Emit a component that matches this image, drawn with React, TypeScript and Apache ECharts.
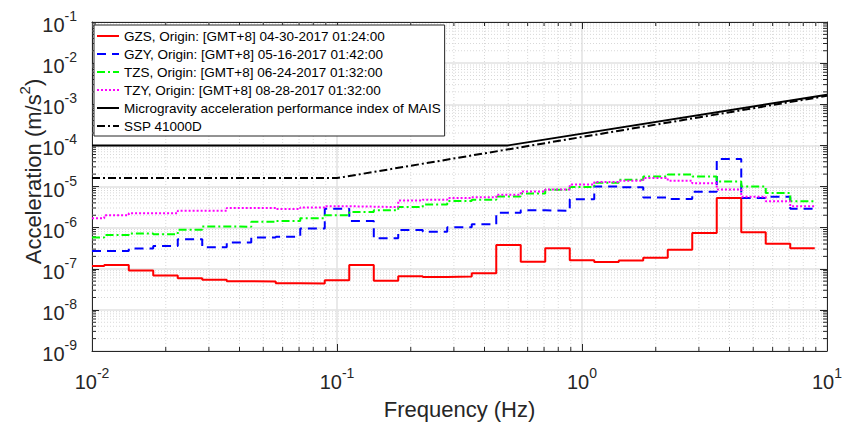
import React, { useEffect, useRef } from 'react';
import * as echarts from 'echarts';

const FONT = '"Liberation Sans", Arial, Helvetica, sans-serif';
const INK = '#262626';

// One-third-octave band edges (Hz); the first edge is the axis start
const bandEdges = [
  0.01, 0.01122, 0.01413, 0.01778, 0.02239, 0.02818, 0.03548, 0.04467, 0.05623, 0.07079,
  0.08913, 0.1122, 0.1413, 0.1778, 0.2239, 0.2818, 0.3548, 0.4467, 0.5623, 0.7079,
  0.8913, 1.122, 1.413, 1.778, 2.239, 2.818, 3.548, 4.467, 5.623, 7.079, 8.913,
];

// Band RMS acceleration (m/s^2), one value per band
const gzs = [
  1.17e-7, 1.23e-7, 9.1e-8, 6.9e-8, 5.9e-8, 5.4e-8, 5.0e-8, 4.9e-8, 4.47e-8, 4.37e-8,
  5.25e-8, 1.23e-7, 5.13e-8, 6.6e-8, 6.3e-8, 6.45e-8, 7.76e-8, 3.8e-7, 1.48e-7, 3.16e-7,
  1.62e-7, 1.45e-7, 1.58e-7, 1.86e-7, 2.88e-7, 7.41e-7, 5.25e-6, 7.76e-7, 4.07e-7, 3.16e-7,
];
const gzy = [
  2.69e-7, 2.69e-7, 3.09e-7, 3.55e-7, 5.25e-7, 3.31e-7, 4.37e-7, 5.75e-7, 6.03e-7, 9.55e-7,
  2.88e-6, 1.45e-6, 5.5e-7, 8.7e-7, 7.94e-7, 1.02e-6, 1.2e-6, 2.29e-6, 2.63e-6, 2.57e-6,
  4.9e-6, 1.0e-5, 9.55e-6, 5.37e-6, 5.0e-6, 7.41e-6, 4.68e-5, 5.25e-6, 5.62e-6, 2.88e-6,
];
const tzs = [
  5.75e-7, 6.6e-7, 7.24e-7, 6.92e-7, 8.9e-7, 1.07e-6, 1.05e-6, 1.38e-6, 1.45e-6, 1.7e-6,
  2.0e-6, 2.4e-6, 2.63e-6, 3.16e-6, 3.63e-6, 4.47e-6, 4.79e-6, 5.75e-6, 6.76e-6, 8.3e-6,
  9.77e-6, 1.23e-5, 1.45e-5, 1.74e-5, 1.95e-5, 1.74e-5, 1.32e-5, 1.0e-5, 6.92e-6, 4.37e-6,
];
const tzy = [
  1.7e-6, 2.0e-6, 2.24e-6, 2.24e-6, 2.57e-6, 2.57e-6, 3.02e-6, 3.02e-6, 2.82e-6, 3.09e-6,
  3.31e-6, 3.24e-6, 3.16e-6, 4.57e-6, 4.79e-6, 5.25e-6, 5.5e-6, 6.31e-6, 7.59e-6, 8.51e-6,
  1.12e-5, 1.29e-5, 1.38e-5, 1.62e-5, 1.38e-5, 1.2e-5, 8.51e-6, 5.62e-6, 4.37e-6, 3.31e-6,
];

// Requirement curves: [frequency, acceleration]
const maisIndex = [[0.01, 1e-4], [0.5, 1e-4], [10, 1.7e-3]];
const ssp41000D = [[0.01, 1.6e-5], [0.1, 1.6e-5], [10, 1.6e-3]];

const seriesNames = [
  'GZS, Origin: [GMT+8] 04-30-2017 01:24:00',
  'GZY, Origin: [GMT+8] 05-16-2017 01:42:00',
  'TZS, Origin: [GMT+8] 06-24-2017 01:32:00',
  'TZY, Origin: [GMT+8] 08-28-2017 01:32:00',
  'Microgravity acceleration performance index of MAIS',
  'SSP 41000D',
];

const xMin = 0.01, xMax = 10, yMin = 1e-9, yMax = 1e-1;

const stepData = (vals: number[]) =>
  bandEdges.map((f, i) => [f, vals[Math.min(i, vals.length - 1)]]);

const powLabel = (v: number) => `{b|10}{e|${Math.round(Math.log10(v))}}`;
const labelRich = {
  b: { fontSize: 20, lineHeight: 26, verticalAlign: 'bottom', color: INK, fontFamily: FONT },
  e: { fontSize: 14, lineHeight: 14, verticalAlign: 'top', color: INK, fontFamily: FONT },
};

const axisCommon = {
  type: 'log',
  logBase: 10,
  axisLine: { show: true, onZero: false, lineStyle: { color: INK, width: 1 } },
  axisTick: { show: true, inside: true, length: 7, lineStyle: { color: INK, width: 1 } },
};

const stepSeries = (name: string, vals: number[], color: string, type: any, width = 2) => ({
  name,
  type: 'line',
  step: 'end',
  data: stepData(vals),
  showSymbol: false,
  symbol: 'none',
  lineStyle: { color, width, type },
  itemStyle: { color },
  z: 3,
});

export default function App() {
  const ref = useRef<HTMLDivElement>(null);
  useEffect(() => {
    document.body.style.margin = '0';
    const chart = echarts.init(ref.current!, null, { renderer: 'svg' });
    const option: any = {
      animation: false,
      backgroundColor: '#ffffff',
      textStyle: { fontFamily: FONT },
      grid: { left: 92, right: 29, top: 22, bottom: 71, containLabel: false },
      legend: {
        data: seriesNames,
        orient: 'vertical',
        left: 94,
        top: 25,
        padding: [4, 4, 3, 2],
        itemWidth: 22,
        itemHeight: 14,
        itemGap: 4,
        backgroundColor: '#ffffff',
        borderColor: INK,
        borderWidth: 1,
        borderRadius: 0,
        itemStyle: { opacity: 0 },
        textStyle: { fontSize: 13.5, color: '#000', fontFamily: FONT },
        selectedMode: false,
      },
      xAxis: [
        {
          ...axisCommon,
          min: xMin,
          max: xMax,
          position: 'bottom',
          axisLabel: { margin: 15, formatter: powLabel, rich: labelRich },
          splitLine: { show: true, lineStyle: { color: '#e2e2e2', width: 1.5 } },
          name: 'Frequency (Hz)',
          nameLocation: 'middle',
          nameGap: 47,
          nameTextStyle: { fontSize: 22, color: INK, fontFamily: FONT },
        },
        {
          ...axisCommon,
          min: xMin,
          max: xMax,
          position: 'top',
          axisLabel: { show: false },
          splitLine: { show: false },
        },
      ],
      yAxis: [
        {
          ...axisCommon,
          min: yMin,
          max: yMax,
          splitNumber: 8,
          position: 'left',
          axisLabel: { margin: 15, formatter: powLabel, rich: labelRich },
          splitLine: { show: true, lineStyle: { color: '#e2e2e2', width: 1.5 } },
        },
        {
          ...axisCommon,
          min: yMin,
          max: yMax,
          splitNumber: 8,
          position: 'right',
          axisLabel: { show: false },
          splitLine: { show: false },
        },
      ],
      series: [
        stepSeries(seriesNames[0], gzs, '#ff0000', 'solid'),
        stepSeries(seriesNames[1], gzy, '#0000ff', [9, 6]),
        stepSeries(seriesNames[2], tzs, '#00ff00', [8, 3, 2, 3]),
        stepSeries(seriesNames[3], tzy, '#ff00ff', [2, 2]),
        {
          name: seriesNames[4],
          type: 'line',
          data: maisIndex,
          showSymbol: false,
          symbol: 'none',
          lineStyle: { color: '#000', width: 2, type: 'solid' },
          itemStyle: { color: '#000' },
          z: 3,
        },
        {
          name: seriesNames[5],
          type: 'line',
          data: ssp41000D,
          showSymbol: false,
          symbol: 'none',
          lineStyle: { color: '#000', width: 2, type: [8, 3, 2, 3] },
          itemStyle: { color: '#000' },
          z: 3,
        },
      ],
    };
    chart.setOption(option);

    // minor grid lines and minor ticks (2..9 x 10^n), placed through the axes' own scales
    const px = (v: number) => chart.convertToPixel({ xAxisIndex: 0 }, v) as number;
    const py = (v: number) => chart.convertToPixel({ yAxisIndex: 0 }, v) as number;
    const L = px(xMin), R = px(xMax), T = py(yMax), B = py(yMin);
    const minorX: number[] = [];
    for (let n = -2; n < 1; n++) for (let k = 2; k < 10; k++) minorX.push(k * Math.pow(10, n));
    const minorY: number[] = [];
    for (let n = -9; n < -1; n++) for (let k = 2; k < 10; k++) minorY.push(k * Math.pow(10, n));
    const gridStyle = { stroke: '#d8d8d8', lineWidth: 1, lineDash: [1, 2] };
    const tickStyle = { stroke: INK, lineWidth: 1 };
    const TL = 4;
    const g: any[] = [];
    minorX.forEach((v) => {
      const x = px(v);
      g.push({ type: 'line', silent: true, z: 1, shape: { x1: x, y1: T, x2: x, y2: B }, style: gridStyle });
      g.push({ type: 'line', silent: true, z: 2, shape: { x1: x, y1: B, x2: x, y2: B - TL }, style: tickStyle });
      g.push({ type: 'line', silent: true, z: 2, shape: { x1: x, y1: T, x2: x, y2: T + TL }, style: tickStyle });
    });
    minorY.forEach((v) => {
      const y = py(v);
      g.push({ type: 'line', silent: true, z: 1, shape: { x1: L, y1: y, x2: R, y2: y }, style: gridStyle });
      g.push({ type: 'line', silent: true, z: 2, shape: { x1: L, y1: y, x2: L + TL, y2: y }, style: tickStyle });
      g.push({ type: 'line', silent: true, z: 2, shape: { x1: R, y1: y, x2: R - TL, y2: y }, style: tickStyle });
    });
    g.push({
      type: 'text',
      x: 30.5,
      y: 171.5,
      rotation: Math.PI / 2,
      silent: true,
      style: {
        text: '{t|Acceleration (m/s}{s|2}{t|)}',
        align: 'center',
        verticalAlign: 'middle',
        fill: INK,
        rich: {
          t: { fontSize: 22, lineHeight: 28, verticalAlign: 'bottom', fontFamily: FONT, fill: INK },
          s: { fontSize: 15, lineHeight: 15, verticalAlign: 'top', fontFamily: FONT, fill: INK },
        },
      },
    });
    chart.setOption({ graphic: g });

    return () => chart.dispose();
  }, []);
  return <div ref={ref} style={{ width: 856, height: 425, position: 'absolute', left: 0, top: 0 }} />;
}
